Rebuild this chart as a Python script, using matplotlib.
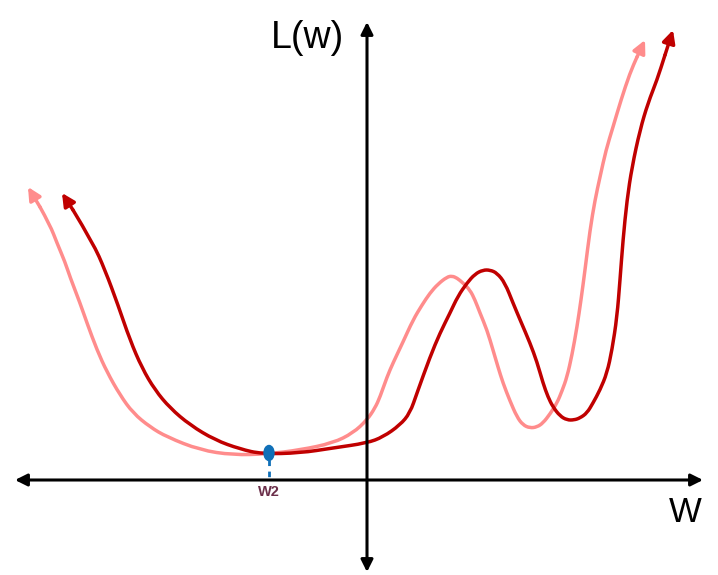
import matplotlib
matplotlib.use("Agg")
import matplotlib.pyplot as plt
from matplotlib.patches import Ellipse, PathPatch
from matplotlib.path import Path

plt.rcParams['font.family'] = ['Liberation Sans', 'DejaVu Sans']

# curve points (pixel units, y grows downward)
dark_x = [62, 73, 93, 105, 118, 130, 142, 155, 170, 190, 215, 240, 262, 300, 333, 367, 383,
          400, 410, 417, 430, 440, 450, 458, 467, 475, 483, 490, 497, 505, 513, 521,
          530, 537, 543, 548, 553, 560, 567, 574, 580, 587, 593, 600, 607, 612, 617,
          620, 623, 627, 632, 640, 648, 657, 665, 673]
dark_y = [193, 210, 243, 270, 305, 340, 368, 390, 408, 425, 440, 449, 454, 453, 448, 443, 437,
          425, 413, 393, 357, 333, 313, 296, 283, 274, 270, 270, 273, 283, 303, 322,
          343, 362, 383, 397, 407, 416, 420, 420, 418, 413, 403, 390, 373, 350, 317,
          280, 240, 200, 167, 130, 103, 80, 55, 30]

light_x = [28, 40, 50, 57, 65, 70, 80, 87, 97, 107, 120, 133, 150, 167, 200, 233, 267,
           300, 333, 353, 367, 375, 380, 387, 393, 403, 413, 422, 430, 438, 447, 452,
           457, 463, 470, 475, 480, 487, 493, 498, 503, 510, 517, 523, 530, 537, 543,
           550, 557, 562, 567, 572, 577, 581, 585, 590, 595, 600, 606, 613, 621, 630,
           637, 645]
light_y = [187, 207, 225, 243, 262, 277, 303, 323, 350, 372, 395, 413, 427, 437, 450, 455,
           454, 450, 443, 433, 420, 408, 397, 377, 363, 342, 320, 305, 293, 284, 277,
           276, 278, 283, 290, 300, 313, 330, 350, 367, 383, 401, 417, 425, 428, 427,
           423, 414, 403, 391, 377, 355, 327, 300, 270, 230, 200, 177, 150, 127, 100,
           73, 57, 40]

w2_x, w2_y = 269, 453
axis_y, axis_x = 480, 367


def smooth_path(xs, ys):
    # quadratic segments through midpoints, read points used as control points
    pts = list(zip(xs, ys))
    verts = [pts[0]]
    codes = [Path.MOVETO]
    for i in range(1, len(pts) - 1):
        mid = ((pts[i][0] + pts[i + 1][0]) / 2, (pts[i][1] + pts[i + 1][1]) / 2)
        verts += [pts[i], mid]
        codes += [Path.CURVE3, Path.CURVE3]
    verts.append(pts[-1])
    codes.append(Path.LINETO)
    return Path(verts, codes)


fig = plt.figure(figsize=(7.18, 5.75), dpi=100)
ax = fig.add_axes([0, 0, 1, 1])
ax.set_xlim(0, 718)
ax.set_ylim(575, 0)
ax.axis('off')

# axes with arrows
ax.annotate('', xy=(15, axis_y), xytext=(703, axis_y),
            arrowprops=dict(arrowstyle='<|-|>', color='black', lw=2.2,
                            mutation_scale=18, shrinkA=0, shrinkB=0))
ax.annotate('', xy=(axis_x, 572), xytext=(axis_x, 22),
            arrowprops=dict(arrowstyle='<|-|>', color='black', lw=2.2,
                            mutation_scale=18, shrinkA=0, shrinkB=0))

light_c = '#ff8c8c'
dark_c = '#c00000'

for xs, ys, c in [(light_x, light_y, light_c), (dark_x, dark_y, dark_c)]:
    ax.add_patch(PathPatch(smooth_path(xs[1:-1], ys[1:-1]), fill=False,
                           edgecolor=c, lw=2.5, joinstyle='round', capstyle='round'))
    for i, j in [(0, 1), (-1, -2)]:
        ax.annotate('', xy=(xs[i], ys[i]), xytext=(xs[j], ys[j]),
                    arrowprops=dict(arrowstyle='-|>', color=c, lw=2.5,
                                    mutation_scale=19, shrinkA=0, shrinkB=0))

# w2 marker
ax.plot([w2_x, w2_x], [w2_y + 7, axis_y - 2], color='#1070b8', lw=2,
        dashes=(2, 2))
ax.add_patch(Ellipse((w2_x, w2_y), 10, 15, color='#1070b8', zorder=5))
ax.text(w2_x, 492, 'W2', color='#6b2f4a', fontsize=10.5, fontweight='bold',
        ha='center', va='center')

ax.text(307, 48, 'L(w)', fontsize=27, ha='center', va='baseline')
ax.text(685, 522, 'W', fontsize=25, ha='center', va='baseline')

fig.savefig('out.png', dpi=100)
